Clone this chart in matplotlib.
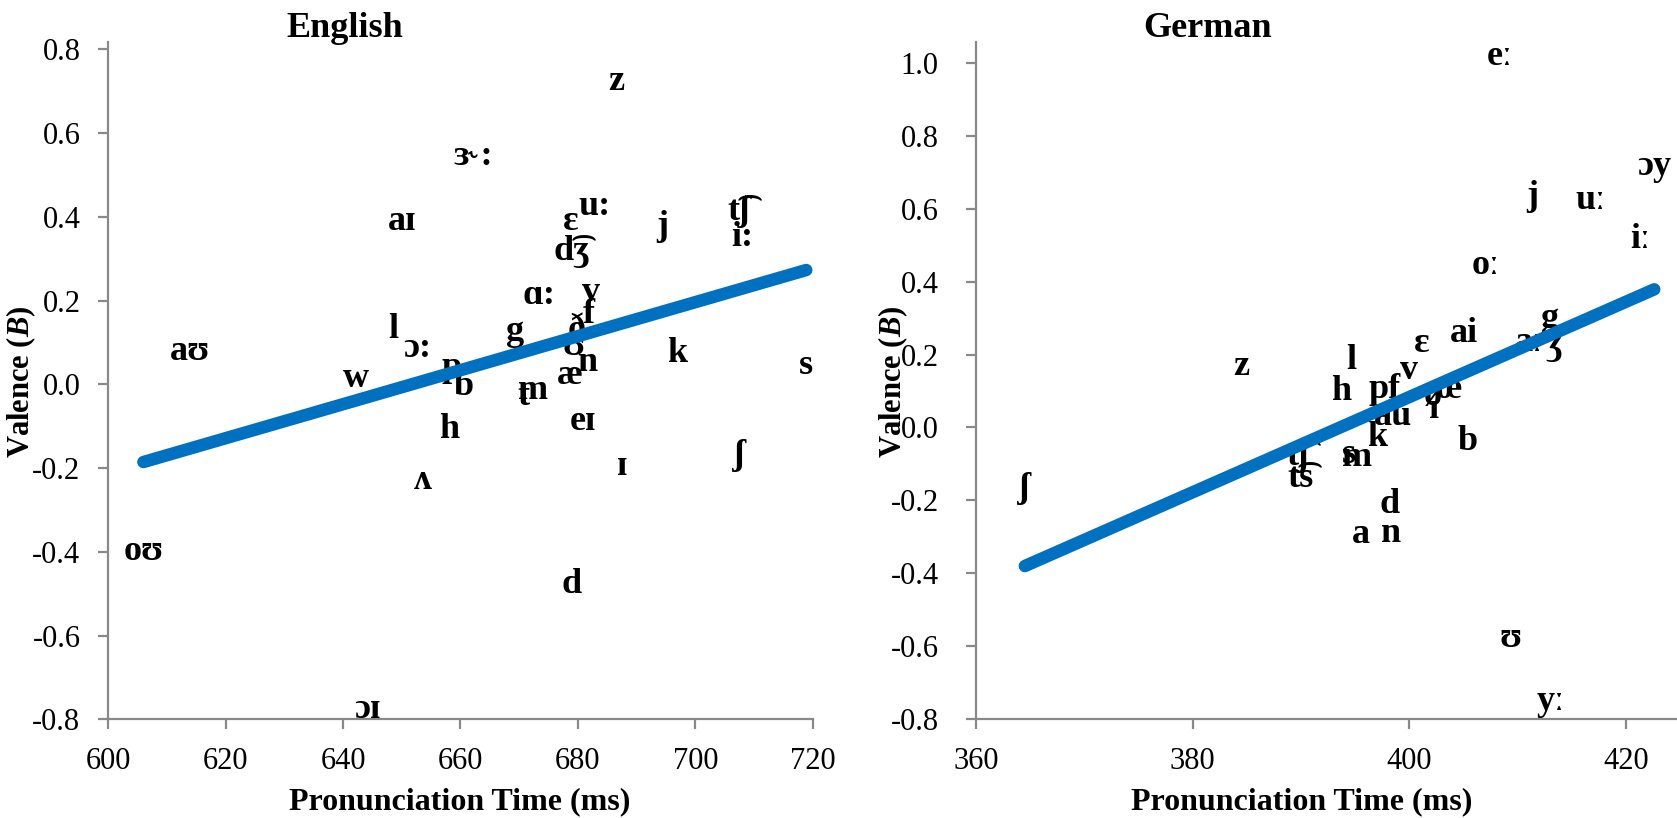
import numpy as np
import matplotlib
matplotlib.use("Agg")
import matplotlib.pyplot as plt

# ---------------- data ----------------
en_labels = ["z", "ɜ˞:", "aɪ", "u:", "ɛ", "j", "t͡ʃ", "i:", "d͡ʒ", "ɑ:", "v", "f",
             "ð", "ʊ", "l", "ɔ:", "g", "aʊ", "w", "k", "n", "s", "æ", "p", "b",
             "m", "t", "eɪ", "h", "ʌ", "ɪ", "ʃ", "oʊ", "d", "ɔɪ"]
en_time = [686.5, 662.1, 650.0, 682.8, 678.7, 694.4, 707.5, 708.0, 679.0, 673.3, 682.2, 681.8,
           679.8, 679.3, 648.6, 652.7, 669.3, 614.0, 642.2, 697.0, 681.7, 718.9, 678.7, 658.5, 660.5,
           672.4, 670.8, 680.8, 658.0, 653.6, 687.6, 707.5, 606.0, 678.9, 644.1]
en_valence = [0.724, 0.544, 0.388, 0.424, 0.388, 0.377, 0.412, 0.351, 0.317, 0.211, 0.219, 0.166,
              0.130, 0.090, 0.130, 0.086, 0.126, 0.078, 0.014, 0.074, 0.052, 0.046, 0.022, 0.040, -0.006,
              -0.014, -0.030, -0.089, -0.109, -0.229, -0.197, -0.169, -0.400, -0.479, -0.776]

de_labels = ["eː", "ɔy", "j", "uː", "iː", "oː", "g", "aː", "ʒ", "ai", "ɛ", "z", "l", "v",
             "h", "pf", "œ", "ø", "ɪ", "au", "k", "b", "s", "m", "t͡ʃ", "t͡s", "d", "a",
             "n", "ʃ", "ʊ", "yː"]
de_time = [408.3, 422.6, 411.3, 416.7, 421.3, 407.0, 413.0, 411.0, 413.3, 405.0, 401.1, 384.5, 394.6, 400.0,
           393.7, 397.7, 403.6, 402.2, 402.3, 398.5, 397.0, 405.4, 394.4, 395.2, 389.7, 389.9, 398.2, 395.5,
           398.3, 364.5, 409.3, 413.0]
de_valence = [1.018, 0.715, 0.632, 0.623, 0.514, 0.445, 0.299, 0.232, 0.225, 0.257, 0.231, 0.167, 0.183, 0.155,
              0.100, 0.103, 0.105, 0.085, 0.050, 0.030, -0.027, -0.038, -0.075, -0.082, -0.080, -0.139, -0.212, -0.294,
              -0.290, -0.166, -0.578, -0.752]

en_xticks = [600, 620, 640, 660, 680, 700, 720]
en_yticks = [-0.8, -0.6, -0.4, -0.2, 0.0, 0.2, 0.4, 0.6, 0.8]
de_xticks = [360, 380, 400, 420]
de_yticks = [-0.8, -0.6, -0.4, -0.2, 0.0, 0.2, 0.4, 0.6, 0.8, 1.0]

titles = ["English", "German"]
xlabel = "Pronunciation Time (ms)"
ylabel = r"Valence ($\mathbfit{B}$)"

# ---------------- style ----------------
plt.rcParams["font.family"] = ["Liberation Serif", "DejaVu Serif"]
plt.rcParams["mathtext.fontset"] = "custom"
plt.rcParams["mathtext.rm"] = "Liberation Serif"
plt.rcParams["mathtext.bf"] = "Liberation Serif:bold"
plt.rcParams["mathtext.it"] = "Liberation Serif:italic"
plt.rcParams["mathtext.bfit"] = "Liberation Serif:italic:bold"

W, H = 1677, 818
fig = plt.figure(figsize=(W / 100, H / 100), dpi=100)

spine_col = "#898989"
line_col = "#0070C0"


def fx(px):
    return px / W


def fy(py):
    return 1 - py / H


panels = [
    dict(labels=en_labels, x=en_time, y=en_valence, xticks=en_xticks, yticks=en_yticks,
         rect=[fx(108.2), fy(719.3), fx(812.7 - 108.2), (719.3 - 41.7) / H],
         xlim=(600, 720), ylim=(-0.8, 0.818), title=titles[0], title_x=345, ylab_x=21,
         xlab_x=460, ypad=13),
    dict(labels=de_labels, x=de_time, y=de_valence, xticks=de_xticks, yticks=de_yticks,
         rect=[fx(976.1), fy(719.3), fx(W - 976.1), (719.3 - 41.7) / H],
         xlim=(360, 424.7), ylim=(-0.8, 1.0576), title=titles[1], title_x=1208, ylab_x=893,
         xlab_x=1302, ypad=20),
]

for p in panels:
    ax = fig.add_axes(p["rect"])
    ax.set_xlim(*p["xlim"])
    ax.set_ylim(*p["ylim"])
    for s in ["top", "right"]:
        ax.spines[s].set_visible(False)
    for s in ["left", "bottom"]:
        ax.spines[s].set_color(spine_col)
        ax.spines[s].set_linewidth(1.6)
    ax.set_xticks(p["xticks"])
    ax.set_xticklabels([f"{v:d}" for v in p["xticks"]])
    ax.set_yticks(p["yticks"])
    ax.set_yticklabels([f"{v:.1f}" for v in p["yticks"]])
    ax.tick_params(axis="both", direction="out", length=7, width=1.6, color=spine_col,
                   labelsize=22)
    ax.tick_params(axis="x", pad=13)
    ax.tick_params(axis="y", pad=p["ypad"])
    ax.set_facecolor("none")

    for lab, xv, yv in zip(p["labels"], p["x"], p["y"]):
        ax.text(xv, yv, lab, ha="center", va="center", fontsize=26, fontweight="bold",
                color="black", zorder=3, clip_on=False)

    xs = np.array(p["x"])
    ys = np.array(p["y"])
    k, b0 = np.polyfit(xs, ys, 1)
    xx = np.array([xs.min(), xs.max()])
    ax.plot(xx, k * xx + b0, color=line_col, lw=9, solid_capstyle="round", zorder=4)

    fig.text(fx(p["xlab_x"]), fy(802), xlabel,
             ha="center", va="center", fontsize=23, fontweight="bold")
    fig.text(fx(p["ylab_x"]), fy(382), ylabel, rotation=90, ha="center", va="center",
             fontsize=22, fontweight="bold")
    fig.text(fx(p["title_x"]), fy(37), p["title"], ha="center", va="baseline",
             fontsize=26, fontweight="bold")

fig.savefig("out.png", dpi=100, facecolor="white")
